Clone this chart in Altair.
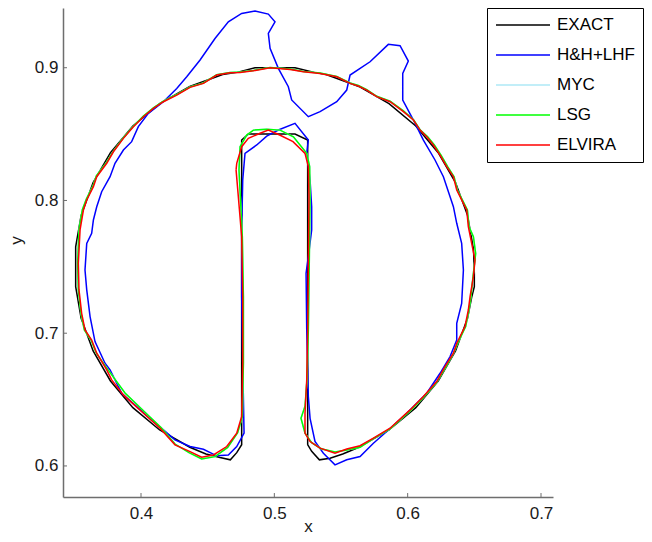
import altair as alt
import pandas as pd

series_names = ["EXACT", "H&H+LHF", "MYC", "LSG", "ELVIRA"]
series_colors = ["#000000", "#0000ff", "#aee8f6", "#00ff00", "#ff0000"]
x_ticks = [0.4, 0.5, 0.6, 0.7]
y_ticks = [0.6, 0.7, 0.8, 0.9]
x_domain = [0.3415, 0.709]
y_domain = [0.5766, 0.945]

exact_pts = [
    (0.525, 0.616), (0.525, 0.8455), (0.5155, 0.850), (0.4805, 0.850), (0.4755, 0.8455),
    (0.4755, 0.616), (0.4718, 0.610), (0.467, 0.6046), (0.4593, 0.6063), (0.4487, 0.6090),
    (0.4366, 0.6141), (0.4140, 0.6271), (0.3939, 0.6439), (0.3771, 0.6640), (0.3641, 0.6866),
    (0.3551, 0.7112), (0.3510, 0.7350), (0.3510, 0.7650), (0.3551, 0.7888), (0.3641, 0.8134),
    (0.3771, 0.8360), (0.3939, 0.8561), (0.4140, 0.8729), (0.4366, 0.8859), (0.4612, 0.8949),
    (0.4720, 0.8965), (0.4855, 0.9000), (0.5155, 0.9000), (0.5300, 0.8965), (0.5388, 0.8949),
    (0.5634, 0.8859), (0.5860, 0.8729), (0.6061, 0.8561), (0.6229, 0.8360), (0.6359, 0.8134),
    (0.6449, 0.7888), (0.6494, 0.7631), (0.6500, 0.7450), (0.6500, 0.7350), (0.6480, 0.7270),
    (0.6449, 0.7112), (0.6359, 0.6866), (0.6229, 0.6640), (0.6061, 0.6439), (0.5860, 0.6271),
    (0.5634, 0.6141), (0.5513, 0.6090), (0.5418, 0.6058), (0.5338, 0.6046), (0.5280, 0.6110),
    (0.5250, 0.6160),
]

hh_pts = [
    (0.4343, 0.8932), (0.4443, 0.9058), (0.4555, 0.9220), (0.4655, 0.9346), (0.4755, 0.9409),
    (0.4855, 0.9427), (0.4955, 0.9404), (0.5005, 0.9346), (0.4955, 0.9259), (0.4968, 0.9146),
    (0.5030, 0.8995), (0.5105, 0.8857), (0.5130, 0.8757), (0.5255, 0.8631), (0.5343, 0.8669),
    (0.5468, 0.8744), (0.5543, 0.8832), (0.5568, 0.8945), (0.5718, 0.9045), (0.5855, 0.9176),
    (0.5943, 0.9166), (0.6005, 0.9050), (0.5963, 0.8957), (0.5963, 0.8757), (0.6043, 0.8606),
    (0.6118, 0.8455), (0.6205, 0.8305), (0.6268, 0.8179), (0.6343, 0.7953), (0.6368, 0.7828),
    (0.6405, 0.7677), (0.6418, 0.7476), (0.6405, 0.7225), (0.6368, 0.7075), (0.6368, 0.6949),
    (0.6318, 0.6824), (0.6243, 0.6698), (0.6143, 0.6548), (0.5993, 0.6397), (0.5843, 0.6259),
    (0.5743, 0.6171), (0.5643, 0.6071), (0.5543, 0.6046), (0.5455, 0.6008), (0.5368, 0.6096),
    (0.5305, 0.6184), (0.5268, 0.6359), (0.5255, 0.6523), (0.5243, 0.7025), (0.5238, 0.7451),
    (0.5255, 0.7577), (0.5280, 0.7778), (0.5280, 0.7953), (0.5268, 0.8154), (0.5243, 0.8355),
    (0.5255, 0.8455), (0.5155, 0.8581), (0.5030, 0.8531), (0.4943, 0.8485), (0.4868, 0.8418),
    (0.4780, 0.8355), (0.4763, 0.8154), (0.4755, 0.7778), (0.4755, 0.7276), (0.4763, 0.6774),
    (0.4773, 0.6247), (0.4718, 0.6146), (0.4655, 0.6083), (0.4568, 0.6076), (0.4468, 0.6126),
    (0.4368, 0.6146), (0.4255, 0.6196), (0.4168, 0.6272), (0.4068, 0.6359), (0.3968, 0.6447),
    (0.3855, 0.6548), (0.3768, 0.6723), (0.3730, 0.6774), (0.3655, 0.6937), (0.3618, 0.7125),
    (0.3593, 0.7326), (0.3580, 0.7476), (0.3593, 0.7677), (0.3630, 0.7753), (0.3643, 0.7853),
    (0.3668, 0.7953), (0.3705, 0.8066), (0.3768, 0.8179), (0.3805, 0.8280), (0.3868, 0.8380),
    (0.3930, 0.8443), (0.3980, 0.8556), (0.4055, 0.8656), (0.4168, 0.8744), (0.4268, 0.8844),
    (0.4343, 0.8932),
]

lsg_pts = [
    (0.4735, 0.8230), (0.4743, 0.8405), (0.4793, 0.8493), (0.4843, 0.8530), (0.4943, 0.8536),
    (0.5043, 0.8530), (0.5143, 0.8480), (0.5243, 0.8355), (0.5265, 0.8255), (0.5268, 0.8030),
    (0.5262, 0.7527), (0.5255, 0.7025), (0.5245, 0.6648), (0.5230, 0.6450), (0.5200, 0.6360),
    (0.5230, 0.6247), (0.5280, 0.6175), (0.5350, 0.6130), (0.5455, 0.6105), (0.5543, 0.6120),
    (0.5643, 0.6140), (0.5743, 0.6205), (0.5868, 0.6280), (0.6018, 0.6415), (0.6118, 0.6515),
    (0.6218, 0.6630), (0.6285, 0.6745), (0.6343, 0.6845), (0.6375, 0.6924), (0.6435, 0.7050),
    (0.6460, 0.7175), (0.6475, 0.7276), (0.6490, 0.7426), (0.6510, 0.7600), (0.6493, 0.7727),
    (0.6460, 0.7803), (0.6448, 0.7928), (0.6410, 0.8004), (0.6372, 0.8079), (0.6348, 0.8179),
    (0.6300, 0.8255), (0.6250, 0.8342), (0.6200, 0.8418), (0.6150, 0.8480), (0.6095, 0.8530),
    (0.6045, 0.8606), (0.5968, 0.8675), (0.5868, 0.8748), (0.5768, 0.8785), (0.5693, 0.8835),
    (0.5630, 0.8866), (0.5568, 0.8885), (0.5468, 0.8935), (0.5343, 0.8960), (0.5218, 0.8972),
    (0.5118, 0.8990), (0.4968, 0.9002), (0.4843, 0.8980), (0.4743, 0.8968), (0.4668, 0.8965),
    (0.4568, 0.8948), (0.4468, 0.8885), (0.4368, 0.8856), (0.4268, 0.8798), (0.4168, 0.8748),
    (0.4093, 0.8698), (0.4018, 0.8636), (0.3943, 0.8560), (0.3868, 0.8472), (0.3793, 0.8372),
    (0.3740, 0.8285), (0.3665, 0.8185), (0.3640, 0.8110), (0.3590, 0.8010), (0.3560, 0.7930),
    (0.3535, 0.7778), (0.3525, 0.7527), (0.3530, 0.7326), (0.3550, 0.7150), (0.3575, 0.7025),
    (0.3625, 0.6949), (0.3665, 0.6849), (0.3745, 0.6735), (0.3800, 0.6660), (0.3880, 0.6550),
    (0.4030, 0.6405), (0.4150, 0.6290), (0.4255, 0.6165), (0.4360, 0.6100), (0.4455, 0.6053),
    (0.4555, 0.6070), (0.4650, 0.6140), (0.4725, 0.6250), (0.4760, 0.6372), (0.4768, 0.6774),
    (0.4768, 0.7276), (0.4760, 0.7727), (0.4745, 0.8029), (0.4735, 0.8230),
]

# MYC is drawn underneath LSG/ELVIRA and is nearly identical to LSG
myc_pts = list(lsg_pts)

elvira_pts = [
    (0.4713, 0.8230), (0.4718, 0.8280), (0.4755, 0.8405), (0.4805, 0.8468), (0.4893, 0.8506),
    (0.4955, 0.8530), (0.5040, 0.8493), (0.5140, 0.8443), (0.5230, 0.8355), (0.5255, 0.8255),
    (0.5260, 0.8030), (0.5255, 0.7527), (0.5250, 0.7025), (0.5243, 0.6648), (0.5230, 0.6397),
    (0.5230, 0.6247), (0.5268, 0.6184), (0.5343, 0.6134), (0.5455, 0.6096), (0.5543, 0.6127),
    (0.5643, 0.6152), (0.5743, 0.6210), (0.5868, 0.6284), (0.6018, 0.6422), (0.6118, 0.6523),
    (0.6218, 0.6636), (0.6280, 0.6749), (0.6343, 0.6849), (0.6368, 0.6924), (0.6430, 0.7050),
    (0.6455, 0.7175), (0.6468, 0.7276), (0.6493, 0.7426), (0.6505, 0.7552), (0.6480, 0.7677),
    (0.6455, 0.7803), (0.6443, 0.7928), (0.6405, 0.8004), (0.6368, 0.8079), (0.6343, 0.8179),
    (0.6293, 0.8255), (0.6243, 0.8342), (0.6193, 0.8418), (0.6143, 0.8480), (0.6093, 0.8530),
    (0.6043, 0.8606), (0.5968, 0.8669), (0.5868, 0.8744), (0.5768, 0.8782), (0.5693, 0.8832),
    (0.5630, 0.8862), (0.5568, 0.8882), (0.5468, 0.8932), (0.5343, 0.8957), (0.5218, 0.8970),
    (0.5118, 0.8987), (0.4968, 0.9000), (0.4843, 0.8977), (0.4743, 0.8965), (0.4668, 0.8962),
    (0.4568, 0.8945), (0.4468, 0.8882), (0.4368, 0.8852), (0.4268, 0.8794), (0.4168, 0.8744),
    (0.4093, 0.8694), (0.4018, 0.8631), (0.3943, 0.8556), (0.3868, 0.8468), (0.3793, 0.8367),
    (0.3743, 0.8280), (0.3668, 0.8179), (0.3643, 0.8104), (0.3593, 0.8004), (0.3568, 0.7928),
    (0.3543, 0.7778), (0.3530, 0.7527), (0.3535, 0.7326), (0.3555, 0.7150), (0.3580, 0.7025),
    (0.3630, 0.6949), (0.3668, 0.6849), (0.3743, 0.6723), (0.3780, 0.6648), (0.3868, 0.6535),
    (0.4018, 0.6397), (0.4143, 0.6284), (0.4255, 0.6159), (0.4368, 0.6108), (0.4455, 0.6066),
    (0.4543, 0.6083), (0.4643, 0.6146), (0.4718, 0.6247), (0.4755, 0.6372), (0.4763, 0.6774),
    (0.4763, 0.7276), (0.4755, 0.7727), (0.4730, 0.8029), (0.4713, 0.8230),
]

curves = {
    "EXACT": exact_pts,
    "H&H+LHF": hh_pts,
    "MYC": myc_pts,
    "LSG": lsg_pts,
    "ELVIRA": elvira_pts,
}

rows = []
for name in series_names:
    for i, (px, py) in enumerate(curves[name]):
        rows.append({"series": name, "x": px, "y": py, "i": i})
df = pd.DataFrame(rows)

FONT = "Liberation Sans"
AX_COLOR = "#6e6e6e"

xs = alt.Scale(domain=x_domain, nice=False, zero=False)
ys = alt.Scale(domain=y_domain, nice=False, zero=False)

xaxis = alt.Axis(values=x_ticks, format=".1f", title="x", ticks=False, grid=False,
                 domainColor=AX_COLOR, domainWidth=1.5, labelFont=FONT, labelFontSize=17,
                 labelColor="#1a1a1a", labelPadding=8, labelFlush=False,
                 titleFont=FONT, titleFontSize=17, titleFontWeight="normal", titleColor="#1a1a1a",
                 titleX=245, titleY=34, titleBaseline="alphabetic", titleAlign="center")
yaxis = alt.Axis(values=y_ticks, format=".1f", title="y", ticks=False, grid=False,
                 domainColor=AX_COLOR, domainWidth=1.5, labelFont=FONT, labelFontSize=17,
                 labelColor="#1a1a1a", labelPadding=5, labelFlush=False,
                 titleFont=FONT, titleFontSize=17, titleFontWeight="normal", titleColor="#1a1a1a",
                 titleX=-47, titleY=232, titleAngle=-90, titleBaseline="middle", titleAlign="center")

color = alt.Color(
    "series:N",
    scale=alt.Scale(domain=series_names, range=series_colors),
    legend=alt.Legend(title=None, orient="none", legendX=424, legendY=0,
                      symbolType="stroke", symbolSize=2916, symbolStrokeWidth=1.5,
                      clipHeight=18, rowPadding=12, padding=8,
                      strokeColor="#000000", fillColor="#ffffff",
                      labelFont=FONT, labelFontSize=17, labelOffset=6, labelColor="#000000"),
)

layers = []
for name in series_names:
    layers.append(
        alt.Chart(df).transform_filter(alt.datum.series == name)
        .mark_line(strokeWidth=1.5)
        .encode(x=alt.X("x:Q", scale=xs, axis=xaxis),
                y=alt.Y("y:Q", scale=ys, axis=yaxis),
                color=color,
                order="i:Q")
    )

tick_len_x = 0.003
tick_len_y = 0.003
xt = pd.DataFrame({"x": x_ticks, "y": [y_domain[0]] * len(x_ticks),
                   "y2": [y_domain[0] + tick_len_y] * len(x_ticks)})
yt = pd.DataFrame({"y": y_ticks, "x": [x_domain[0]] * len(y_ticks),
                   "x2": [x_domain[0] + tick_len_x] * len(y_ticks)})

xtick_layer = alt.Chart(xt).mark_rule(color=AX_COLOR, strokeWidth=1).encode(
    x=alt.X("x:Q", scale=xs, axis=xaxis), y=alt.Y("y:Q", scale=ys, axis=yaxis), y2="y2:Q")
ytick_layer = alt.Chart(yt).mark_rule(color=AX_COLOR, strokeWidth=1).encode(
    x=alt.X("x:Q", scale=xs, axis=xaxis), x2="x2:Q", y=alt.Y("y:Q", scale=ys, axis=yaxis))

chart = alt.layer(xtick_layer, ytick_layer, *layers).properties(
    width=490, height=489,
    autosize=alt.AutoSizeParams(type="none"),
    padding={"left": 55, "top": 0, "right": 91, "bottom": 39},
).configure_view(strokeWidth=0)

chart.save("out.html", embed_options={"renderer": "svg", "actions": False})
